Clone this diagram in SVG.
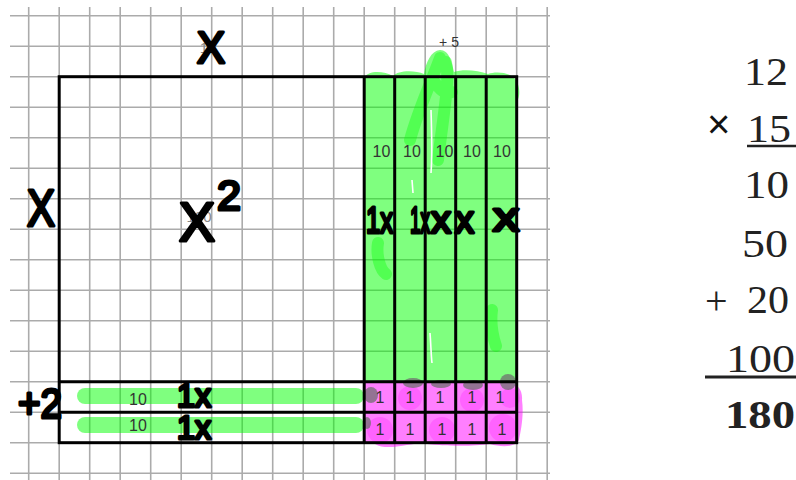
<svg xmlns="http://www.w3.org/2000/svg" width="796" height="480" viewBox="0 0 796 480">
<style>
.grid{stroke:#ababab;stroke-width:1.6;fill:none}
.frame{stroke:#000;stroke-width:3;fill:none}
.g{fill:#00ff00;fill-opacity:.5}
.p{fill:#ff00ff;fill-opacity:.5}
.small{font-family:"Liberation Sans",Arial,sans-serif;font-size:16px;fill:#333;text-anchor:middle}
.faint{font-family:"Liberation Sans",Arial,sans-serif;font-size:15px;fill:#888;text-anchor:middle}
.hand{font-family:"Liberation Sans",Arial,sans-serif;font-weight:normal;fill:#000;stroke:#000;stroke-width:3.2;stroke-linejoin:round;stroke-linecap:round}
.eq{font-family:"Liberation Serif","Times New Roman",serif;font-size:40px;fill:#222}
</style>
<rect width="796" height="480" fill="#fff"/>
<g id="grid">
<path class="grid" d="M28.7,7V480M59.2,7V480M89.7,7V480M120.2,7V480M150.7,7V480M181.2,7V480M211.7,7V480M242.2,7V480M272.7,7V480M303.2,7V480M333.7,7V480M364.2,7V480M394.7,7V480M425.2,7V480M455.7,7V480M486.2,7V480M516.7,7V480M547.2,7V480
M10,15.7H550M10,46.2H550M10,76.7H550M10,107.2H550M10,137.7H550M10,168.2H550M10,198.7H550M10,229.2H550M10,259.7H550M10,290.2H550M10,320.7H550M10,351.2H550M10,381.7H550M10,412.2H550M10,442.7H550M10,473.2H550"/>
</g>
<g id="faint-labels">
<text class="faint" x="208" y="53">10</text>
<text class="faint" x="199" y="222">100</text>
</g>
<g id="green-columns">
<path class="g" d="M364,381 L364,78 C368,70 384,71 393,76 C398,70 415,70 424,74 C426,62 431,51 440,50 C449,50 452,62 454,72 C462,69 478,70 488,74 C496,71 513,72 517,82 C521,90 519,100 517,100 L518,381 Z"/>
<path d="M440,58 C432,80 418,110 410,140 M446,62 C450,80 444,110 438,160 M378,243 C376,255 380,270 386,274 M492,310 C490,325 494,340 496,346 M433,80 C440,90 445,95 452,92" stroke="#00ff00" stroke-opacity=".35" stroke-width="12" stroke-linecap="round" fill="none"/>
<path d="M431,110 C432,140 432,160 431,173 M430,333 C431,345 431,355 432,363 M412,180 L413,193" stroke="#fff" stroke-width="1.6" fill="none"/>
</g>
<g id="green-strips">
<rect class="g" x="77" y="388" width="287" height="16" rx="8"/>
<rect class="g" x="77" y="417" width="287" height="16" rx="8"/>
</g>
<g id="pink-cells">
<path class="p" d="M364,383 C380,379 400,380 420,383 C440,380 470,382 500,381 C515,380 523,388 522,400 C524,415 521,430 519,440 C515,448 500,447 490,444 C470,447 440,446 420,443 C400,446 385,450 375,444 C366,444 364,442 364,440 Z"/>
<g fill="#ff00ff" fill-opacity=".22">
<circle cx="380" cy="430" r="13"/><circle cx="410" cy="398" r="12"/><circle cx="442" cy="430" r="13"/><circle cx="472" cy="400" r="12"/><circle cx="503" cy="428" r="14"/><circle cx="510" cy="398" r="10"/>
</g>
<g fill="#6f6f6f" fill-opacity=".75">
<ellipse cx="371" cy="395" rx="7" ry="8"/>
<ellipse cx="367" cy="423" rx="4" ry="6"/>
<ellipse cx="413" cy="383" rx="10" ry="5"/>
<ellipse cx="441" cy="384" rx="10" ry="4"/>
<ellipse cx="473" cy="385" rx="10" ry="5"/>
<ellipse cx="508" cy="382" rx="8" ry="8"/>
</g>
</g>
<g id="frame">
<rect class="frame" x="59.2" y="76.7" width="457.5" height="366"/>
<path class="frame" d="M364.2,76.7V442.7M394.7,76.7V442.7M425.2,76.7V442.7M455.7,76.7V442.7M486.2,76.7V442.7M59.2,381.7H516.7M59.2,412.2H516.7"/>
</g>
<g id="printed-labels">
<text class="small" x="381.5" y="157">10</text>
<text class="small" x="412" y="157">10</text>
<text class="small" x="444.5" y="157">10</text>
<text class="small" x="472" y="157">10</text>
<text class="small" x="502" y="157">10</text>
<text class="small" x="449" y="47" style="font-size:14px">+ 5</text>
<text class="small" x="138" y="405">10</text>
<text class="small" x="138" y="431">10</text>
<text class="small" x="380" y="403">1</text>
<text class="small" x="410" y="403">1</text>
<text class="small" x="440" y="403">1</text>
<text class="small" x="472" y="403">1</text>
<text class="small" x="500" y="403">1</text>
<text class="small" x="380" y="435">1</text>
<text class="small" x="410" y="435">1</text>
<text class="small" x="442" y="435">1</text>
<text class="small" x="472" y="435">1</text>
<text class="small" x="502" y="435">1</text>
</g>
<g id="handwriting">
<text class="hand" x="197" y="63" font-size="44" textLength="28" lengthAdjust="spacingAndGlyphs">X</text>
<text class="hand" x="27" y="226" font-size="52" textLength="28" lengthAdjust="spacingAndGlyphs">X</text>
<text class="hand" x="179" y="241" font-size="56" textLength="36" lengthAdjust="spacingAndGlyphs">X</text>
<text class="hand" x="217" y="210" font-size="42" textLength="24" lengthAdjust="spacingAndGlyphs">2</text>
<text class="hand" x="366" y="233" font-size="36" textLength="27" lengthAdjust="spacingAndGlyphs">1x</text>
<text class="hand" x="410" y="233" font-size="36" textLength="20" lengthAdjust="spacingAndGlyphs">1x</text>
<text class="hand" x="431" y="233" font-size="38" textLength="20" lengthAdjust="spacingAndGlyphs">x</text>
<text class="hand" x="455" y="233" font-size="38" textLength="19" lengthAdjust="spacingAndGlyphs">x</text>
<text class="hand" x="493" y="231" font-size="40" textLength="26" lengthAdjust="spacingAndGlyphs">x</text>
<text class="hand" x="177" y="407" font-size="34" textLength="34" lengthAdjust="spacingAndGlyphs">1x</text>
<text class="hand" x="177" y="439" font-size="34" textLength="34" lengthAdjust="spacingAndGlyphs">1x</text>
<text class="hand" x="18" y="418" font-size="42" textLength="44" lengthAdjust="spacingAndGlyphs">+2</text>
</g>
<g id="equation">
<text class="eq" x="744" y="85" textLength="44" lengthAdjust="spacingAndGlyphs">12</text>
<text x="707" y="138" font-family="Liberation Sans,Arial,sans-serif" font-size="40" fill="#111">×</text>
<text class="eq" x="747" y="142" textLength="44" lengthAdjust="spacingAndGlyphs">15</text>
<line x1="747" y1="146" x2="796" y2="146" stroke="#222" stroke-width="2.5"/>
<text class="eq" x="744" y="198" textLength="45" lengthAdjust="spacingAndGlyphs">10</text>
<text class="eq" x="742" y="257" textLength="46" lengthAdjust="spacingAndGlyphs">50</text>
<text class="eq" x="705" y="314">+</text>
<text class="eq" x="747" y="313" textLength="42" lengthAdjust="spacingAndGlyphs">20</text>
<text class="eq" x="726" y="372" textLength="69" lengthAdjust="spacingAndGlyphs">100</text>
<line x1="705" y1="377" x2="796" y2="377" stroke="#222" stroke-width="3"/>
<text class="eq" x="725" y="428" font-weight="bold" textLength="70" lengthAdjust="spacingAndGlyphs">180</text>
</g>
</svg>
